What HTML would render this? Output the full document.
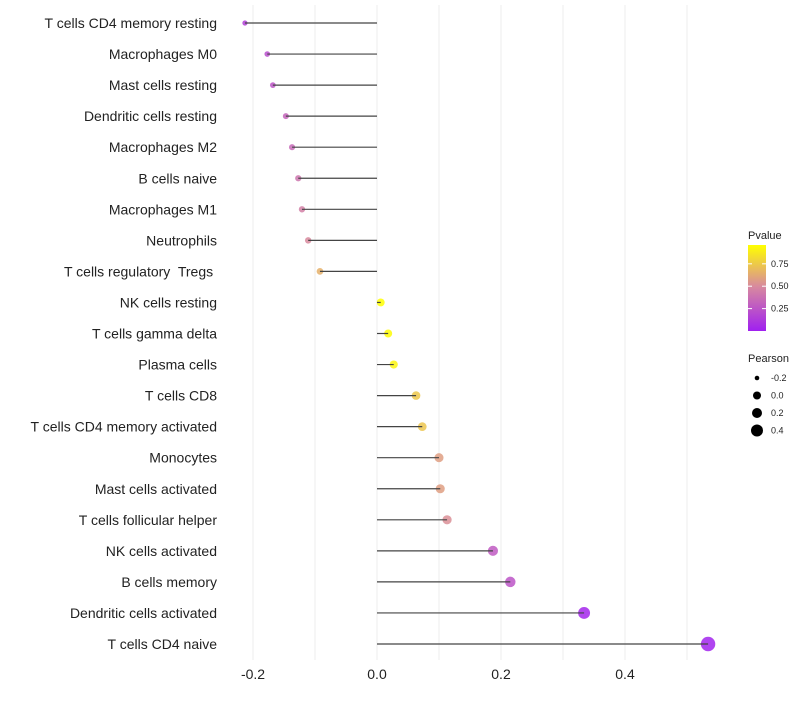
<!DOCTYPE html>
<html><head><meta charset="utf-8"><style>
body{margin:0;background:#fff;font-family:"Liberation Sans",sans-serif}
text{white-space:pre}
</style></head><body>
<svg id="chart" width="800" height="700" xmlns="http://www.w3.org/2000/svg">
<defs><linearGradient id="pg" x1="0" y1="1" x2="0" y2="0">
<stop offset="0" stop-color="#A020F0"/><stop offset="0.52" stop-color="#D88A9E"/><stop offset="1" stop-color="#FFFF00"/></linearGradient></defs>
<g id="grid"></g><g id="marks"></g><g id="labels"></g><g id="legend"></g>
</svg>
<script>
const categories=["T cells CD4 memory resting","Macrophages M0","Mast cells resting","Dendritic cells resting","Macrophages M2","B cells naive","Macrophages M1","Neutrophils","T cells regulatory  Tregs ","NK cells resting","T cells gamma delta","Plasma cells","T cells CD8","T cells CD4 memory activated","Monocytes","Mast cells activated","T cells follicular helper","NK cells activated","B cells memory","Dendritic cells activated","T cells CD4 naive"];
const pearson=[-0.213,-0.177,-0.168,-0.147,-0.137,-0.127,-0.121,-0.111,-0.092,0.006,0.018,0.027,0.063,0.073,0.1,0.102,0.113,0.187,0.215,0.334,0.534];
const pvalue=[0.15,0.22,0.25,0.32,0.35,0.4,0.45,0.5,0.65,0.96,0.95,0.92,0.74,0.73,0.58,0.58,0.52,0.28,0.25,0.03,0.02];
const xTicks=[-0.2,0,0.2,0.4];
const xTickLabels=["-0.2","0.0","0.2","0.4"];
const ns="http://www.w3.org/2000/svg";
const X=v=>377+v*620;
const Y=i=>23+i*31.05;
function mk(t,a,p){const e=document.createElementNS(ns,t);for(const k in a)e.setAttribute(k,a[k]);p.appendChild(e);return e;}
function lerp(a,b,t){return a+(b-a)*t}
function hex(c){return[parseInt(c.slice(1,3),16),parseInt(c.slice(3,5),16),parseInt(c.slice(5,7),16)]}
const stops=[[0,"#A020F0"],[0.52,"#D88A9E"],[1,"#FFFF00"]];
function col(p){const t=Math.max(0,Math.min(1,p/0.96));for(let i=0;i<2;i++){if(t<=stops[i+1][0]){const u=(t-stops[i][0])/(stops[i+1][0]-stops[i][0]);const a=hex(stops[i][1]),b=hex(stops[i+1][1]);return `rgb(${a.map((v,k)=>Math.round(lerp(v,b[k],u))).join(",")})`;}}return "#FFFF00";}
const pmin=-0.213,pmax=0.534;
const R=v=>2.6+(v-pmin)/(pmax-pmin)*4.6;
const grid=document.getElementById('grid'),marks=document.getElementById('marks'),labels=document.getElementById('labels'),legend=document.getElementById('legend');
for(let v=-0.3;v<=0.5;v+=0.1){const x=X(v);if(x<222||x>740)continue;
const g=mk('line',{x1:x,x2:x,y1:5,y2:660,stroke:'#eeeeee','stroke-width':1},grid);

}
xTicks.forEach((v,i)=>{const t=mk('text',{x:X(v),y:679,'text-anchor':'middle','font-size':14,fill:'#222'},labels);t.textContent=xTickLabels[i];

});
categories.forEach((c,i)=>{
const d=mk('circle',{cx:X(pearson[i]),cy:Y(i),r:R(pearson[i]),fill:col(pvalue[i]),'fill-opacity':0.85},marks);


const l=mk('line',{x1:X(0),x2:X(pearson[i]),y1:Y(i),y2:Y(i),stroke:'#444','stroke-width':1.2},marks);


const t=mk('text',{x:217,y:Y(i)+5,'text-anchor':'end','font-size':14,fill:'#222'},labels);t.textContent=c;

});
let t=mk('text',{x:748,y:239,'font-size':11,fill:'#222'},legend);t.textContent='Pvalue';


const bar=mk('rect',{x:748,y:245,width:18,height:86,fill:'url(#pg)'},legend);


[[0.75,"0.75"],[0.5,"0.50"],[0.25,"0.25"]].forEach(([v,s])=>{const y=331-v/0.96*86;
mk('line',{x1:748,x2:752,y1:y,y2:y,stroke:'#fff'},legend);mk('line',{x1:762,x2:766,y1:y,y2:y,stroke:'#fff'},legend);
const tt=mk('text',{x:771,y:y+3,'font-size':9,fill:'#222'},legend);tt.textContent=s;

});
t=mk('text',{x:748,y:362,'font-size':11,fill:'#222'},legend);t.textContent='Pearson';


[[-0.2,"-0.2"],[0,"0.0"],[0.2,"0.2"],[0.4,"0.4"]].forEach(([v,s],k)=>{const y=378+k*17.5;
const c=mk('circle',{cx:757,cy:y,r:[2.3,4,5,6][k],fill:'#000'},legend);


const tt=mk('text',{x:771,y:y+3,'font-size':9,fill:'#222'},legend);tt.textContent=s;

});
</script>
</body></html>
